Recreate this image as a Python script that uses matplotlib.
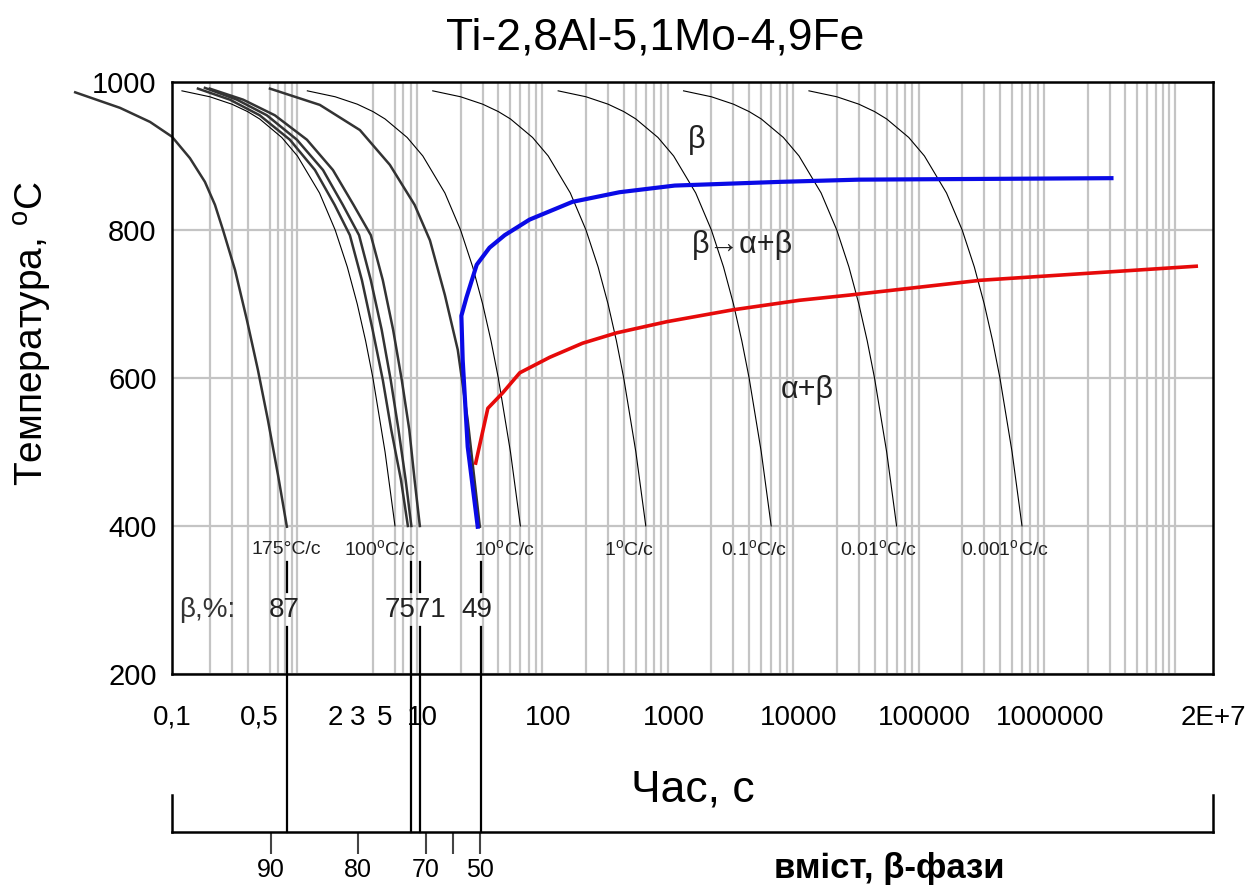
import numpy as np
import matplotlib
matplotlib.use('Agg')
import matplotlib.pyplot as plt
import matplotlib.transforms as mtransforms
from matplotlib.ticker import LogLocator, FixedLocator, NullFormatter

plt.rcParams['font.family'] = ['Liberation Sans', 'DejaVu Sans']

# --- data -----------------------------------------------------------------
# thin lines: constant cooling rates (°C/s)
thin_T = [988, 980, 970, 960, 950, 925, 900, 850, 800, 750, 700, 650, 600, 500, 400]
thin_t = [
    [0.12, 0.2, 0.3, 0.4, 0.5, 0.75, 1, 1.5, 2, 2.5, 3, 3.5, 4, 5, 6],                    # 100
    [1.2, 2, 3, 4, 5, 7.5, 10, 15, 20, 25, 30, 35, 40, 50, 60],                           # 10
    [12, 20, 30, 40, 50, 75, 100, 150, 200, 250, 300, 350, 400, 500, 600],                # 1
    [120, 200, 300, 400, 500, 750, 1000, 1500, 2000, 2500, 3000, 3500, 4000, 5000, 6000], # 0.1
    [1200, 2000, 3000, 4000, 5000, 7500, 1e4, 1.5e4, 2e4, 2.5e4, 3e4, 3.5e4, 4e4, 5e4, 6e4],
    [1.2e4, 2e4, 3e4, 4e4, 5e4, 7.5e4, 1e5, 1.5e5, 2e5, 2.5e5, 3e5, 3.5e5, 4e5, 5e5, 6e5],
]

# thick grey lines: measured cooling curves
curve175_t = [0.0169, 0.0385, 0.0668, 0.1, 0.139, 0.183, 0.22, 0.255, 0.318, 0.396, 0.484, 0.582, 0.70, 0.824]
curve175_T = [986, 965, 946, 926, 897, 865, 834, 800, 746, 678, 611, 543, 469, 399]

curveC_t = [0.161, 0.29, 0.50, 0.87, 1.38, 1.98, 2.62, 3.27, 3.98, 4.8, 5.6, 6.7, 7.6]
curveC_T = [991, 976, 955, 922, 881, 834, 793, 732, 665, 597, 530, 462, 400]
curveD_t = [0.183, 0.33, 0.57, 0.99, 1.6, 2.3, 3.1, 3.85, 4.7, 5.55, 6.4, 7.3, 8.1]
curveD_T = [992, 976, 955, 922, 881, 834, 793, 732, 665, 597, 530, 462, 400]
curveE_t = [0.2, 0.37, 0.66, 1.19, 1.92, 2.8, 3.85, 4.8, 5.8, 6.8, 7.8, 8.6, 9.47]
curveE_T = [991, 976, 955, 922, 881, 834, 793, 732, 665, 597, 530, 462, 400]

curveF_t = [0.604, 1.51, 3.15, 5.46, 8.6, 11.4, 15, 19, 22.8, 28.5]
curveF_T = [991, 969, 935, 888, 834, 786, 712, 638, 543, 399]

# transformation start (blue) and finish (red)
start_t = [27.4, 22.8, 20.8, 20.3, 22.3, 26.9, 34, 45, 71, 156, 370, 1020, 7050, 30000, 3.1e6]
start_T = [399, 507, 624, 684, 709, 753, 776, 793, 814, 838, 851, 860, 865, 868, 870]
finish_t = [26.4, 33, 43.4, 59.3, 103, 188, 352, 880, 2950, 10090, 25200, 279000, 1.47e7]
finish_T = [485, 559, 580, 607, 628, 647, 661, 676, 692, 705, 712, 732, 751]

# beta-phase content markers
beta_line_t = [0.82, 8.0, 9.47, 29]
beta_scale_t = [0.615, 3.03, 10.6, 17.3, 28.5]
beta_scale_labels = ['90', '80', '70', '', '50']

xtick_pos = [0.1, 0.5, 2, 3, 5, 10, 100, 1000, 1e4, 1e5, 1e6, 2e7]
xtick_labels = ['0,1', '0,5', '2', '3', '5', '10', '100', '1000', '10000',
                '100000', '1000000', '2E+7']
ytick_pos = [200, 400, 600, 800, 1000]

# --- figure ---------------------------------------------------------------
fig = plt.figure(figsize=(12.51, 8.88), dpi=100)
ax = fig.add_axes([0.1375, 0.241, 0.8321, 0.6667])
ax.set_xscale('log')
ax.set_xlim(0.1, 2e7)
ax.set_ylim(200, 1000)

ax.xaxis.set_major_locator(FixedLocator(xtick_pos))
ax.set_xticklabels(xtick_labels)
ax.xaxis.set_minor_locator(LogLocator(base=10, subs=np.arange(1, 10), numticks=60))
ax.xaxis.set_minor_formatter(NullFormatter())
ax.set_yticks(ytick_pos)
ax.tick_params(axis='both', which='both', length=0)
ax.tick_params(axis='x', labelsize=20, pad=22)
ax.tick_params(axis='y', labelsize=21, pad=11)
ax.set_axisbelow(True)
ax.grid(which='minor', axis='x', color='#c4c4c4', lw=1.6)
ax.grid(which='major', axis='y', color='#c4c4c4', lw=1.6)
for s in ax.spines.values():
    s.set_linewidth(1.8)
    s.set_color('black')

for tt in thin_t:
    ax.plot(tt, thin_T, color='black', lw=0.8)

ax.plot(curve175_t, curve175_T, color='#333333', lw=1.8, clip_on=False)
for ct, cT in [(curveC_t, curveC_T), (curveD_t, curveD_T), (curveE_t, curveE_T),
               (curveF_t, curveF_T)]:
    ax.plot(ct, cT, color='#333333', lw=1.8)

ax.plot(start_t, start_T, color='#0a0ae6', lw=3.0, zorder=5)
ax.plot(finish_t, finish_T, color='#e60a0a', lw=2.6, zorder=5)

# phase region labels
ax.text(1525, 922, 'β', fontsize=22, ha='center', va='center', color='#222222')
ax.text(3550, 780, 'β→α+β', fontsize=22, ha='center', va='center', color='#222222')
ax.text(11700, 584, 'α+β', fontsize=22, ha='center', va='center', color='#222222')

# cooling-rate labels
rate_labels = [(0.82, '175°C/c'), (4.54, '100$^{\\mathregular{o}}$C/c'),
               (45, '10$^{\\mathregular{o}}$C/c'), (438, '1$^{\\mathregular{o}}$C/c'),
               (4420, '0.1$^{\\mathregular{o}}$C/c'), (43000, '0.01$^{\\mathregular{o}}$C/c'),
               (442000, '0.001$^{\\mathregular{o}}$C/c')]
for x, s in rate_labels:
    ax.text(x, 368, s, fontsize=14, color='#222222', ha='center', va='center')

# beta content values
ax.text(0.19, 286, 'β,%:', fontsize=20, color='#333333', ha='center', va='center')
ax.text(0.79, 286, '87', fontsize=20, color='#222222', ha='center', va='center')
ax.text(8.8, 286, '7571', fontsize=20, color='#222222', ha='center', va='center')
ax.text(27, 286, '49', fontsize=20, color='#222222', ha='center', va='center')

trans = mtransforms.blended_transform_factory(ax.transData, fig.transFigure)
for bt in beta_line_t:
    ax.plot([bt, bt], [1 - 562 / 888, 1 - 592 / 888], color='black', lw=1.6,
            transform=trans, clip_on=False)
    ax.plot([bt, bt], [1 - 627 / 888, 1 - 832 / 888], color='black', lw=1.6,
            transform=trans, clip_on=False)

ax.set_xlabel('Час, с', fontsize=32)
ax.xaxis.set_label_coords(0.5, -0.162)
ax.set_ylabel('Температура, $^{\\mathregular{o}}$C', fontsize=28)
ax.yaxis.set_label_coords(-0.113, 0.575)
fig.text(0.524, 0.957, 'Ti-2,8Al-5,1Mo-4,9Fe', fontsize=32, ha='center', va='center')

# secondary scale: beta-phase content
ax2 = fig.add_axes([0.1375, 1 - 832 / 888, 0.8321, 37 / 888])
ax2.set_facecolor('none')
ax2.set_xscale('log')
ax2.set_xlim(0.1, 2e7)
ax2.set_yticks([])
ax2.xaxis.set_major_locator(FixedLocator(beta_scale_t))
ax2.set_xticklabels(beta_scale_labels)
ax2.xaxis.set_minor_locator(FixedLocator([]))
ax2.tick_params(axis='x', length=16, width=1.5, color='#444444', labelsize=18, pad=3)
ax2.spines['top'].set_visible(False)
for k in ['left', 'right', 'bottom']:
    ax2.spines[k].set_linewidth(1.8)
fig.text(0.711, 0.0225, 'вміст, β-фази', fontsize=25, fontweight='bold',
         ha='center', va='center')

fig.savefig('out.png', dpi=100)
